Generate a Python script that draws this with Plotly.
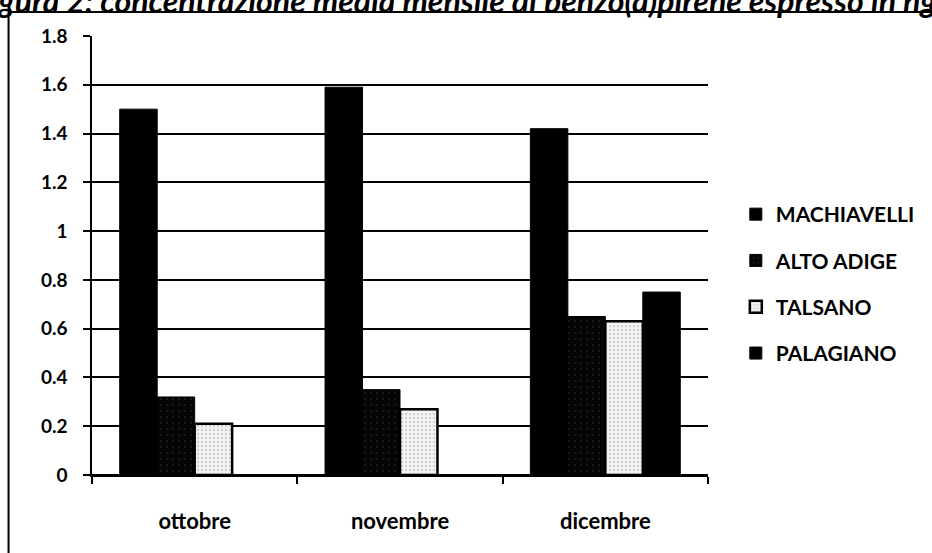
import plotly.graph_objects as go

# Monthly mean concentrations per monitoring site
months = ["ottobre", "novembre", "dicembre"]
machiavelli = [1.50, 1.59, 1.42]
alto_adige = [0.32, 0.35, 0.65]
talsano = [0.21, 0.27, 0.63]
palagiano = [None, None, 0.75]

y_ticks = [0, 0.2, 0.4, 0.6, 0.8, 1, 1.2, 1.4, 1.6, 1.8]
y_tick_text = ["0", "0.2", "0.4", "0.6", "0.8", "1", "1.2", "1.4", "1.6", "1.8"]

FONT = "Lato"

fig = go.Figure()

fig.add_trace(go.Bar(
    name="MACHIAVELLI", x=months, y=machiavelli, legendgroup="a",
    marker=dict(color="#000000", line=dict(color="#000000", width=1)),
))
fig.add_trace(go.Bar(
    name="ALTO ADIGE", x=months, y=alto_adige, legendgroup="b",
    marker=dict(color="#050505", line=dict(color="#000000", width=1),
                pattern=dict(shape=".", fgcolor="#6a6a6a", size=6, solidity=0.05,
                             fillmode="overlay")),
))
fig.add_trace(go.Bar(
    name="TALSANO", x=months, y=talsano, legendgroup="c",
    marker=dict(color="#f2f2f2", line=dict(color="#000000", width=2.5),
                pattern=dict(shape=".", fgcolor="#444444", size=4, solidity=0.12,
                             fillmode="overlay")),
))
fig.add_trace(go.Bar(
    name="PALAGIANO", x=months, y=palagiano, legendgroup="d",
    marker=dict(color="#000000", line=dict(color="#000000", width=1)),
))

# paper <-> pixel helpers (plot area spans x 92..712, y 36..475)
L, R, T, B = 92, 712, 36, 475
def px(x):
    return (x - L) / (R - L)
def py(y):
    return (B - y) / (B - T)

fig.update_layout(
    width=932, height=553,
    margin=dict(l=L, r=932 - R, t=T, b=553 - B, pad=0),
    paper_bgcolor="white", plot_bgcolor="white",
    barmode="group", bargap=0.27, bargroupgap=0,
    font=dict(family=FONT, color="#000000"),
    showlegend=True,
    legend=dict(
        x=px(740), y=py(194), xanchor="left", yanchor="top",
        font=dict(family=FONT, size=21, color="#000000", weight="bold"),
        tracegroupgap=16, itemwidth=30, bgcolor="rgba(0,0,0,0)",
    ),
    xaxis=dict(
        type="category", showgrid=False, showline=True, linecolor="#000000",
        linewidth=1.5, ticks="outside", tickson="boundaries", ticklen=7,
        tickcolor="#000000", tickwidth=1.5, ticklabelstandoff=26,
        tickfont=dict(family=FONT, size=22, color="#000000", weight="bold"),
        zeroline=False,
    ),
    yaxis=dict(
        range=[0, 1.8], tickvals=y_ticks, ticktext=y_tick_text,
        showgrid=True, gridcolor="#000000", gridwidth=1.8,
        showline=True, linecolor="#000000", linewidth=1.5,
        ticks="outside", ticklen=7, tickcolor="#000000", tickwidth=1.5,
        ticklabelstandoff=12,
        tickfont=dict(family=FONT, size=19, color="#000000", weight="bold"),
        zeroline=True, zerolinecolor="#000000", zerolinewidth=1.8,
    ),
)

# outer chart frame
fig.add_shape(type="rect", xref="paper", yref="paper",
              x0=px(8), x1=px(960), y0=py(600), y1=py(12),
              line=dict(color="#000000", width=2), fillcolor="rgba(0,0,0,0)",
              layer="below")

# figure caption above the frame
fig.add_annotation(
    xref="paper", yref="paper", x=px(-29), y=py(22), xanchor="left", yanchor="bottom",
    text="<i>Figura 2: concentrazione media mensile di benzo(a)pirene espresso in ng/m3</i>",
    showarrow=False, font=dict(family=FONT, size=32, color="#000000", weight="bold"),
)

fig.write_html("out.html")
